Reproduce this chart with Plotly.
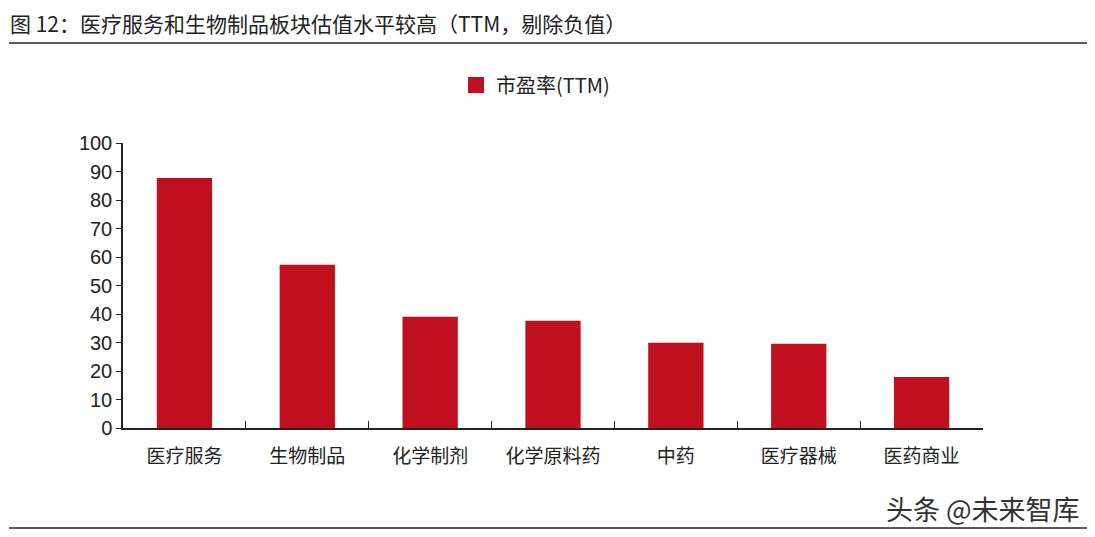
import plotly.graph_objects as go

# Data
categories = ["医疗服务", "生物制品", "化学制剂", "化学原料药", "中药", "医疗器械", "医药商业"]
pe_ttm = [87.7, 57.3, 39.0, 37.6, 29.9, 29.6, 17.9]

title_text = "图 12：医疗服务和生物制品板块估值水平较高（TTM，剔除负值）"
series_name = "市盈率(TTM)"
watermark = "头条 @未来智库"

cjk = "Noto Sans CJK SC"
bar_color = "#C00F1E"

# the page body has an 8px margin, so work in page pixels and shift
OFF = 8
FW, FH = 1095 - 2 * OFF, 537 - 2 * OFF
L, R, T, B = 123 - OFF, 983 - OFF, 143 - OFF, 428 - OFF
W, H = R - L, B - T


def px(x):
    return (x - OFF - L) / W


def py(y):
    return (B - (y - OFF)) / H


fig = go.Figure()
fig.add_trace(go.Bar(
    x=categories, y=pe_ttm, name=series_name, showlegend=False,
    marker=dict(color=bar_color, line=dict(width=0)),
))
# legend entry with a bigger square swatch
fig.add_trace(go.Scatter(
    x=[None], y=[None], mode="markers", name=series_name,
    marker=dict(symbol="square", size=16, color=bar_color),
))

fig.update_layout(
    width=FW, height=FH,
    margin=dict(l=L, r=FW - R, t=T, b=FH - B),
    paper_bgcolor="white", plot_bgcolor="white",
    bargap=0.55,
    showlegend=True,
    legend=dict(
        orientation="h", x=px(456), xanchor="left", y=py(85), yanchor="middle",
        font=dict(family=cjk, size=20, color="#222"),
        itemwidth=30,
    ),
    font=dict(family="Liberation Sans, Arial", color="#222"),
)

fig.update_yaxes(
    range=[0, 100], dtick=10,
    showline=True, linecolor="#222", linewidth=1.5,
    ticks="outside", ticklen=5, tickcolor="#222",
    showgrid=False, zeroline=False,
    tickfont=dict(family="Liberation Sans, Arial", size=20, color="#222"),
)
fig.update_xaxes(
    showline=True, linecolor="#222", linewidth=1.5,
    ticks="inside", tickson="boundaries", ticklen=7, tickcolor="#222",
    showgrid=False, ticklabelstandoff=10,
    tickfont=dict(family=cjk, size=19, color="#222"),
)

# title and rules
fig.add_annotation(
    text=title_text, xref="paper", yref="paper", x=px(9), y=py(23),
    xanchor="left", yanchor="middle", showarrow=False, borderpad=0,
    font=dict(family=cjk, size=21, color="#222"),
)
fig.add_shape(type="line", xref="paper", yref="paper",
              x0=px(9), x1=px(1087), y0=py(43), y1=py(43),
              line=dict(color="#222", width=1.5))
fig.add_shape(type="line", xref="paper", yref="paper",
              x0=px(9), x1=px(1087), y0=py(528), y1=py(528),
              line=dict(color="#222", width=1.5))

# watermark
fig.add_annotation(
    text=watermark, xref="paper", yref="paper", x=px(1082), y=py(508),
    xanchor="right", yanchor="middle", showarrow=False,
    font=dict(family=cjk, size=27, color="#333"),
)

fig.write_html("out.html")
